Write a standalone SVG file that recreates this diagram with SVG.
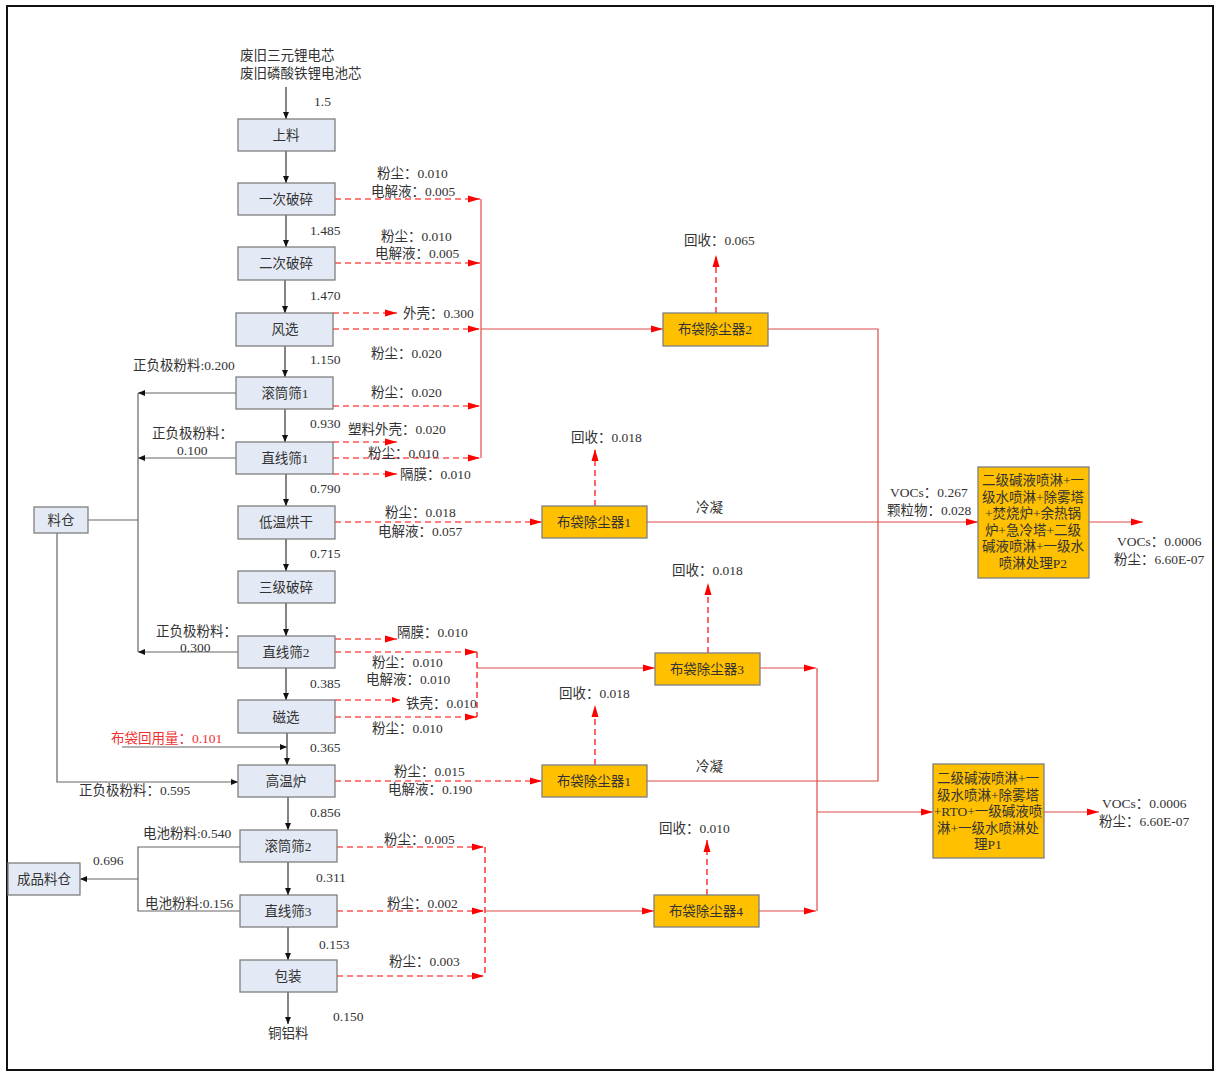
<svg xmlns="http://www.w3.org/2000/svg" width="1216" height="1073" viewBox="0 0 1216 1073">
  <style>
    text { font-family: "Liberation Serif", "Noto Sans CJK SC", serif; font-size: 13.5px; fill: #333; }
    .c { text-anchor: middle; }
    .red { fill: #f03030; }
    .proc rect { fill: #e4eaf5; stroke: #7f7f7f; stroke-width: 1.3; }
    .dust rect { fill: #ffc000; stroke: #7f7f7f; stroke-width: 1.3; }
    .flow { fill: none; stroke: #333; stroke-width: 1.2; }
    .side { fill: none; stroke: #666; stroke-width: 1.2; }
    .dash { fill: none; stroke: #f00; stroke-width: 1.2; stroke-dasharray: 6 4; }
    .pipe { fill: none; stroke: #e04a4a; stroke-width: 1.2; }
  </style>
  <defs>
    <marker id="ab" markerUnits="userSpaceOnUse" markerWidth="7" markerHeight="7" refX="7" refY="3.5" orient="auto">
      <path d="M0,0.5 L7,3.5 L0,6.5 z" fill="#111"/>
    </marker>
    <marker id="ar" markerUnits="userSpaceOnUse" markerWidth="12" markerHeight="8" refX="12" refY="4" orient="auto">
      <path d="M0,0.5 L12,4 L0,7.5 z" fill="#f00"/>
    </marker>
    <marker id="ars" markerUnits="userSpaceOnUse" markerWidth="8" markerHeight="6" refX="8" refY="3" orient="auto">
      <path d="M0,0 L8,3 L0,6 z" fill="#f00"/>
    </marker>
  </defs>

  <!-- frame -->
  <rect x="7" y="6" width="1206" height="1064" fill="#fff" stroke="#111" stroke-width="2"/>

  <!-- connectors -->
  <g id="connectors">
    <!-- main material flow -->
    <path class="flow" marker-end="url(#ab)" d="M286,87 V119"/>
    <path class="flow" marker-end="url(#ab)" d="M286,151 V183"/>
    <path class="flow" marker-end="url(#ab)" d="M286,215 V247"/>
    <path class="flow" marker-end="url(#ab)" d="M285,280 V313"/>
    <path class="flow" marker-end="url(#ab)" d="M285,346 V377"/>
    <path class="flow" marker-end="url(#ab)" d="M285,409 V442"/>
    <path class="flow" marker-end="url(#ab)" d="M286,474 V506"/>
    <path class="flow" marker-end="url(#ab)" d="M286,539 V571"/>
    <path class="flow" marker-end="url(#ab)" d="M286,603 V636"/>
    <path class="flow" marker-end="url(#ab)" d="M286,668 V700"/>
    <path class="flow" marker-end="url(#ab)" d="M287,733 V765"/>
    <path class="flow" marker-end="url(#ab)" d="M288,797 V830"/>
    <path class="flow" marker-end="url(#ab)" d="M288,862 V895"/>
    <path class="flow" marker-end="url(#ab)" d="M288,927 V960"/>
    <path class="flow" marker-end="url(#ab)" d="M288,992 V1024"/>

    <!-- electrode powder returns to the silo -->
    <path class="side" marker-end="url(#ab)" d="M236,393 H138"/>
    <path class="side" marker-end="url(#ab)" d="M236,458 H138"/>
    <path class="side" marker-end="url(#ab)" d="M238,652 H138"/>
    <path class="side" d="M138,393 V652"/>
    <path class="side" d="M88,520 H138"/>
    <path class="side" marker-end="url(#ab)" d="M57,533 V782 H238"/>
    <path class="side" marker-end="url(#ab)" d="M122,747 H287"/>

    <!-- battery powder to product silo -->
    <path class="side" d="M240,847 H138 V911 H240"/>
    <path class="side" marker-end="url(#ab)" d="M138,879 H80"/>

    <!-- emissions, upper section -->
    <path class="dash" marker-end="url(#ar)" d="M335,199 H480"/>
    <path class="dash" marker-end="url(#ar)" d="M335,263 H480"/>
    <path class="dash" marker-end="url(#ar)" d="M333,313 H397"/>
    <path class="dash" marker-end="url(#ar)" d="M333,329 H480"/>
    <path class="dash" marker-end="url(#ar)" d="M333,406 H480"/>
    <path class="dash" marker-end="url(#ar)" d="M333,442 H397"/>
    <path class="dash" marker-end="url(#ar)" d="M333,458 H480"/>
    <path class="dash" marker-end="url(#ar)" d="M333,474 H397"/>
    <path class="pipe" d="M481,199 V458"/>
    <path class="pipe" marker-end="url(#ar)" d="M481,329 H663"/>
    <path class="dash" marker-end="url(#ar)" d="M335,522 H542"/>

    <!-- emissions, middle section -->
    <path class="dash" marker-end="url(#ar)" d="M335,639 H397"/>
    <path class="dash" marker-end="url(#ar)" d="M335,652 H477"/>
    <path class="dash" marker-end="url(#ars)" d="M335,700 H400"/>
    <path class="dash" marker-end="url(#ar)" d="M335,717 H477"/>
    <path class="dash" d="M477,652 V717"/>
    <path class="pipe" marker-end="url(#ar)" d="M477,668 H655"/>
    <path class="dash" marker-end="url(#ar)" d="M335,781 H542"/>

    <!-- emissions, lower section -->
    <path class="dash" marker-end="url(#ar)" d="M337,847 H484"/>
    <path class="dash" marker-end="url(#ar)" d="M337,911 H484"/>
    <path class="dash" marker-end="url(#ar)" d="M337,976 H484"/>
    <path class="dash" d="M485,847 V976"/>
    <path class="pipe" marker-end="url(#ar)" d="M485,911 H654"/>

    <!-- recovered dust -->
    <path class="dash" marker-end="url(#ar)" d="M716,313 V255"/>
    <path class="dash" marker-end="url(#ar)" d="M595,506 V449"/>
    <path class="dash" marker-end="url(#ar)" d="M708,653 V583"/>
    <path class="dash" marker-end="url(#ar)" d="M595,765 V705"/>
    <path class="dash" marker-end="url(#ar)" d="M707,895 V840"/>

    <!-- exhaust to treatment -->
    <path class="pipe" d="M768,329 H878 V781 H647"/>
    <path class="pipe" marker-end="url(#ar)" d="M647,522 H978"/>
    <path class="pipe" marker-end="url(#ar)" d="M1089,522 H1143"/>
    <path class="pipe" marker-end="url(#ar)" d="M760,668 H816"/>
    <path class="pipe" marker-end="url(#ar)" d="M759,911 H816"/>
    <path class="pipe" d="M817,668 V911"/>
    <path class="pipe" marker-end="url(#ar)" d="M817,812 H933"/>
    <path class="pipe" marker-end="url(#ar)" d="M1044,812 H1099"/>
  </g>

  <!-- process nodes -->
  <g id="n-feed" class="proc"><rect x="238" y="119" width="97" height="32"/><text class="c" x="286" y="140">上料</text></g>
  <g id="n-crush1" class="proc"><rect x="238" y="183" width="97" height="32"/><text class="c" x="286" y="204">一次破碎</text></g>
  <g id="n-crush2" class="proc"><rect x="238" y="247" width="97" height="33"/><text class="c" x="286" y="268">二次破碎</text></g>
  <g id="n-air" class="proc"><rect x="236" y="313" width="97" height="33"/><text class="c" x="285" y="334">风选</text></g>
  <g id="n-drum1" class="proc"><rect x="236" y="377" width="97" height="32"/><text class="c" x="285" y="398">滚筒筛1</text></g>
  <g id="n-lin1" class="proc"><rect x="236" y="442" width="97" height="32"/><text class="c" x="285" y="463">直线筛1</text></g>
  <g id="n-dry" class="proc"><rect x="238" y="506" width="97" height="33"/><text class="c" x="286" y="527">低温烘干</text></g>
  <g id="n-crush3" class="proc"><rect x="238" y="571" width="97" height="32"/><text class="c" x="286" y="592">三级破碎</text></g>
  <g id="n-lin2" class="proc"><rect x="238" y="636" width="97" height="32"/><text class="c" x="286" y="657">直线筛2</text></g>
  <g id="n-mag" class="proc"><rect x="238" y="700" width="97" height="33"/><text class="c" x="286" y="722">磁选</text></g>
  <g id="n-furnace" class="proc"><rect x="238" y="765" width="97" height="32"/><text class="c" x="286" y="786">高温炉</text></g>
  <g id="n-drum2" class="proc"><rect x="240" y="830" width="97" height="32"/><text class="c" x="288" y="851">滚筒筛2</text></g>
  <g id="n-lin3" class="proc"><rect x="240" y="895" width="97" height="32"/><text class="c" x="288" y="916">直线筛3</text></g>
  <g id="n-pack" class="proc"><rect x="240" y="960" width="97" height="32"/><text class="c" x="288" y="981">包装</text></g>
  <g id="n-silo" class="proc"><rect x="34" y="507" width="54" height="26"/><text class="c" x="61" y="525">料仓</text></g>
  <g id="n-product" class="proc"><rect x="8" y="863" width="72" height="32"/><text class="c" x="44" y="884">成品料仓</text></g>

  <!-- dust collectors and exhaust treatment -->
  <g id="n-bag2" class="dust"><rect x="663" y="313" width="105" height="33"/><text class="c" x="715" y="334">布袋除尘器2</text></g>
  <g id="n-bag1a" class="dust"><rect x="542" y="506" width="105" height="32"/><text class="c" x="594" y="527">布袋除尘器1</text></g>
  <g id="n-bag3" class="dust"><rect x="655" y="653" width="105" height="32"/><text class="c" x="707" y="674">布袋除尘器3</text></g>
  <g id="n-bag1b" class="dust"><rect x="542" y="765" width="105" height="32"/><text class="c" x="594" y="786">布袋除尘器1</text></g>
  <g id="n-bag4" class="dust"><rect x="654" y="895" width="105" height="32"/><text class="c" x="706" y="916">布袋除尘器4</text></g>
  <g id="n-p2" class="dust">
    <rect x="978" y="467" width="111" height="111"/>
    <text class="c" x="1033" y="485">二级碱液喷淋+一</text>
    <text class="c" x="1033" y="502">级水喷淋+除雾塔</text>
    <text class="c" x="1033" y="518">+焚烧炉+余热锅</text>
    <text class="c" x="1033" y="535">炉+急冷塔+二级</text>
    <text class="c" x="1033" y="551">碱液喷淋+一级水</text>
    <text class="c" x="1033" y="568">喷淋处理P2</text>
  </g>
  <g id="n-p1" class="dust">
    <rect x="933" y="764" width="111" height="94"/>
    <text class="c" x="988" y="783">二级碱液喷淋+一</text>
    <text class="c" x="988" y="800">级水喷淋+除雾塔</text>
    <text class="c" x="988" y="816">+RTO+一级碱液喷</text>
    <text class="c" x="988" y="833">淋+一级水喷淋处</text>
    <text class="c" x="988" y="849">理P1</text>
  </g>

  <!-- flow labels -->
  <g id="labels">
    <text x="240" y="60">废旧三元锂电芯</text>
    <text x="240" y="78">废旧磷酸铁锂电池芯</text>
    <text x="314" y="106">1.5</text>
    <text x="377" y="178">粉尘：0.010</text>
    <text x="371" y="196">电解液：0.005</text>
    <text x="310" y="235">1.485</text>
    <text x="381" y="241">粉尘：0.010</text>
    <text x="375" y="258">电解液：0.005</text>
    <text x="310" y="300">1.470</text>
    <text x="403" y="318">外壳：0.300</text>
    <text x="371" y="358">粉尘：0.020</text>
    <text x="310" y="364">1.150</text>
    <text x="133" y="370">正负极粉料:0.200</text>
    <text x="371" y="397">粉尘：0.020</text>
    <text x="310" y="428">0.930</text>
    <text x="348" y="434">塑料外壳：0.020</text>
    <text x="152" y="438">正负极粉料：</text>
    <text x="177" y="455">0.100</text>
    <text x="368" y="458">粉尘：0.010</text>
    <text x="400" y="479">隔膜：0.010</text>
    <text x="310" y="493">0.790</text>
    <text x="385" y="517">粉尘：0.018</text>
    <text x="378" y="536">电解液：0.057</text>
    <text x="310" y="558">0.715</text>
    <text x="156" y="636">正负极粉料：</text>
    <text x="180" y="652">0.300</text>
    <text x="397" y="637">隔膜：0.010</text>
    <text x="372" y="667">粉尘：0.010</text>
    <text x="366" y="684">电解液：0.010</text>
    <text x="310" y="688">0.385</text>
    <text x="406" y="708">铁壳：0.010</text>
    <text x="372" y="733">粉尘：0.010</text>
    <text class="red" x="111" y="743">布袋回用量：0.101</text>
    <text x="310" y="752">0.365</text>
    <text x="394" y="776">粉尘：0.015</text>
    <text x="388" y="794">电解液：0.190</text>
    <text x="79" y="795">正负极粉料：0.595</text>
    <text x="310" y="817">0.856</text>
    <text x="143" y="838">电池粉料:0.540</text>
    <text x="384" y="844">粉尘：0.005</text>
    <text x="93" y="865">0.696</text>
    <text x="316" y="882">0.311</text>
    <text x="145" y="908">电池粉料:0.156</text>
    <text x="387" y="908">粉尘：0.002</text>
    <text x="319" y="949">0.153</text>
    <text x="389" y="966">粉尘：0.003</text>
    <text x="333" y="1021">0.150</text>
    <text x="268" y="1038">铜铝料</text>

    <text x="684" y="245">回收：0.065</text>
    <text x="571" y="442">回收：0.018</text>
    <text x="696" y="512">冷凝</text>
    <text x="890" y="497">VOCs：0.267</text>
    <text x="887" y="515">颗粒物：0.028</text>
    <text x="672" y="575">回收：0.018</text>
    <text x="559" y="698">回收：0.018</text>
    <text x="696" y="771">冷凝</text>
    <text x="659" y="833">回收：0.010</text>
    <text x="1117" y="546">VOCs：0.0006</text>
    <text x="1114" y="564">粉尘：6.60E-07</text>
    <text x="1102" y="808">VOCs：0.0006</text>
    <text x="1099" y="826">粉尘：6.60E-07</text>
  </g>
</svg>
